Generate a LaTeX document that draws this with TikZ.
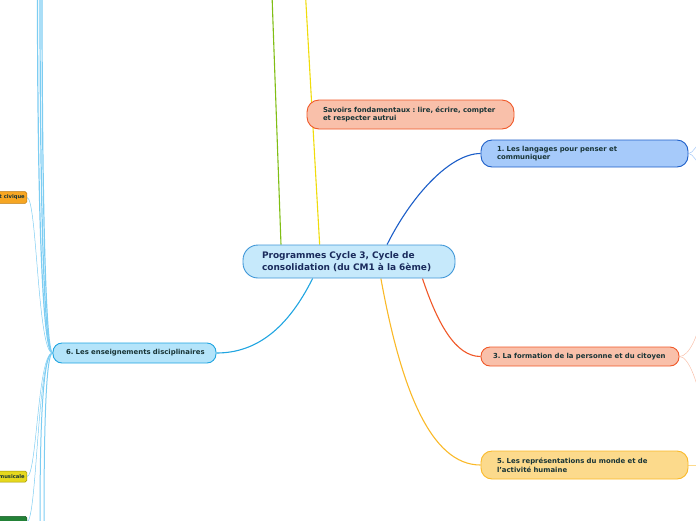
\documentclass[tikz,border=0pt]{standalone}
\usepackage{fontspec}
\setmainfont{DejaVu Sans}
\usetikzlibrary{backgrounds}
\frenchspacing

\definecolor{txt}{RGB}{24,52,54}
\definecolor{navy}{RGB}{26,43,92}
\definecolor{centrefill}{RGB}{198,233,251}
\definecolor{centreline}{RGB}{62,150,215}
\definecolor{salmon}{RGB}{249,192,170}
\definecolor{redline}{RGB}{240,88,40}
\definecolor{langfill}{RGB}{166,202,250}
\definecolor{langline}{RGB}{28,94,200}
\definecolor{reprfill}{RGB}{252,218,140}
\definecolor{reprline}{RGB}{250,185,40}
\definecolor{discfill}{RGB}{180,228,250}
\definecolor{discline}{RGB}{32,165,225}
\definecolor{twigblue}{RGB}{125,205,242}
\definecolor{greenline}{RGB}{128,190,20}
\definecolor{yellowline}{RGB}{240,220,10}
\definecolor{orangefill}{RGB}{246,166,35}
\definecolor{orangeline}{RGB}{190,120,10}
\definecolor{musfill}{RGB}{230,216,30}
\definecolor{musline}{RGB}{160,150,0}
\definecolor{greenfill}{RGB}{35,130,55}

\begin{document}
\begin{tikzpicture}[x=1pt,y=-1pt,
    topic/.style={draw,line width=0.9pt,align=left,inner ysep=0pt,text=txt,
        font=\bfseries\fontsize{6.9}{8.8}\selectfont},
    leaf/.style={draw,line width=0.5pt,rounded corners=1.5pt,inner xsep=2pt,
        minimum height=11pt,text=txt,font=\bfseries\fontsize{5.2}{6}\selectfont},
    branch/.style={line width=1.1pt},
    twig/.style={line width=0.5pt}]
\useasboundingbox (0,0) rectangle (696,520);
\clip (0,0) rectangle (696,520);

\node[topic,fill=centrefill,draw=centreline,text=navy,rounded corners=15pt,
    text width=174pt,inner xsep=19pt,minimum height=33pt,
    font=\bfseries\fontsize{9}{12}\selectfont] (prog) at (349,261.5)
    {Programmes Cycle 3, Cycle de\\consolidation (du CM1 à la 6ème)};
\node[topic,fill=salmon,draw=redline,rounded corners=12pt,text width=175pt,
    inner xsep=16pt,minimum height=29pt] (savoirs) at (410.5,114.5)
    {Savoirs fondamentaux : lire, écrire, compter\\et respecter autrui};
\node[topic,fill=langfill,draw=langline,rounded corners=11pt,text width=175pt,
    inner xsep=16pt,minimum height=27pt] (lang) at (584.5,153.5)
    {1. Les langages pour penser et\\communiquer};
\node[topic,fill=salmon,draw=redline,rounded corners=9pt,text width=174pt,
    inner xsep=12pt,minimum height=19pt] (pers) at (580,356.5)
    {\mbox{3. La formation de la personne et du citoyen}};
\node[topic,fill=reprfill,draw=reprline,rounded corners=11pt,text width=175pt,
    inner xsep=16pt,minimum height=28pt] (repr) at (584.5,465)
    {5. Les représentations du monde et de\\l'activité humaine};
\node[topic,fill=discfill,draw=discline,rounded corners=9pt,text width=137pt,
    inner xsep=13pt,minimum height=20pt] (disc) at (134.5,353)
    {\mbox{6. Les enseignements disciplinaires}};

\node[leaf,fill=orangefill,draw=orangeline,anchor=east] (civ) at (27,197.5) {t civique};
\node[leaf,fill=musfill,draw=musline,anchor=east] (mus) at (27,476.5) {musicale};
\node[leaf,fill=greenfill,draw=greenfill!70!black,anchor=north east,minimum width=40pt] (grn) at (27,516) {};

\coordinate (gtop) at (272,-5);
\coordinate (ytop) at (305.5,-5);
\coordinate (up1) at (37.5,-5);
\coordinate (up2) at (40,-5);
\coordinate (up3) at (42,-5);
\coordinate (down1) at (40,525);
\coordinate (down2) at (44,525);
\coordinate (r1a) at (700,144);
\coordinate (r1b) at (700,163);
\coordinate (r3a) at (700,322);
\coordinate (r3b) at (700,398);
\coordinate (r5) at (700,465);

\begin{scope}[on background layer]
\draw[branch,greenline] (prog.166) -- (gtop);
\draw[branch,yellowline] (prog.150) -- (ytop);
\draw[branch,langline] (prog.24) .. controls +(25,-50) and +(-30,0) .. (lang.west);
\draw[branch,redline] (prog.-13) .. controls +(15,45) and +(-25,0) .. (pers.west);
\draw[branch,reprline] (prog.-28) .. controls +(20,110) and +(-50,0) .. (repr.west);
\draw[branch,discline] (prog.205) .. controls +(-25,50) and +(40,0) .. (disc.east);

\draw[line width=1.2pt,twigblue] (disc.west) .. controls +(-12,0) and +(0,160) .. (up1);
\draw[line width=1.2pt,twigblue] (disc.west) .. controls +(-10,0) and +(0,160) .. (up2);
\draw[line width=1.2pt,twigblue] (disc.west) .. controls +(-8,0) and +(0,160) .. (up3);
\draw[line width=1pt,twigblue] (disc.west) .. controls +(-12,0) and +(0,-60) .. (down1);
\draw[line width=1pt,twigblue] (disc.west) .. controls +(-8,0) and +(0,-60) .. (down2);
\draw[twig,twigblue] (disc.west) .. controls +(-15,0) and +(10,0) .. (civ.east);
\draw[twig,twigblue] (disc.west) .. controls +(-15,0) and +(10,0) .. (mus.east);
\draw[twig,twigblue] (disc.west) .. controls +(-15,0) and +(10,0) .. (grn.east);

\draw[twig,langfill] (lang.east) .. controls +(5,0) and +(-4,0) .. (r1a);
\draw[twig,langfill] (lang.east) .. controls +(5,0) and +(-4,0) .. (r1b);
\draw[twig,salmon] (pers.east) .. controls +(10,0) and +(-2,12) .. (r3a);
\draw[twig,salmon] (pers.east) .. controls +(10,0) and +(-2,-12) .. (r3b);
\draw[twig,reprfill] (repr.east) -- (r5);
\end{scope}
\end{tikzpicture}
\end{document}
